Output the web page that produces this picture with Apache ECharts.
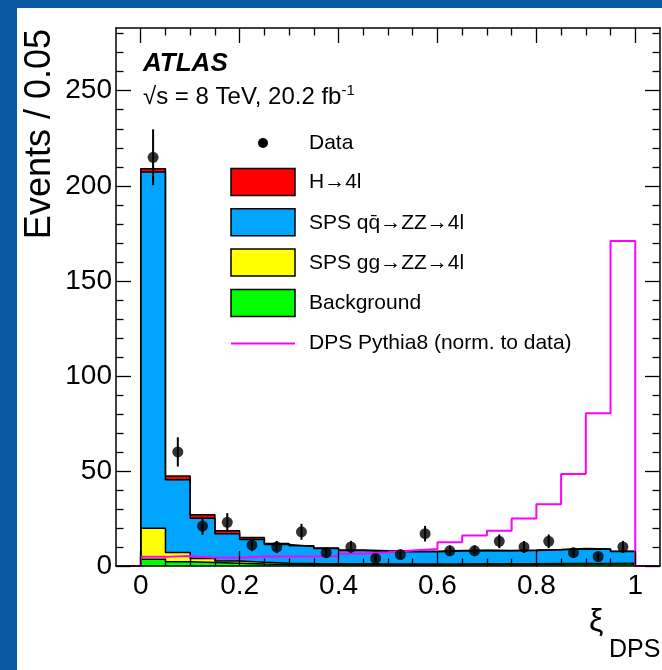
<!DOCTYPE html>
<html>
<head>
<meta charset="utf-8">
<script src="https://cdn.jsdelivr.net/npm/echarts@6/dist/echarts.min.js"></script>
<style>
	html, body { margin: 0; padding: 0; background: #0b59a3; }
	#chart { width: 662px; height: 670px; }
</style>
</head>
<body>
<div id="chart"></div>
<script>
// Bin edges of the xi_DPS histogram (20 bins of 0.05)
let binEdges = [0, 0.05, 0.1, 0.15, 0.2, 0.25, 0.3, 0.35, 0.4, 0.45, 0.5,
	0.55, 0.6, 0.65, 0.7, 0.75, 0.8, 0.85, 0.9, 0.95, 1.0];

// Data points and their error bars
let dataCounts = [215, 60, 21, 23, 11, 10, 18, 7, 10, 4, 6, 17, 8, 8, 13, 10, 13, 7, 5, 10];
let dataErrors = [14.7, 7.7, 4.6, 4.8, 3.3, 3.2, 4.2, 2.6, 3.2, 2.0, 2.4, 4.1, 2.8, 2.8, 3.6, 3.2, 3.6, 2.6, 2.2, 3.2];

// Stacked prediction, one array per component (bottom to top)
let bkgValues = [3.5, 2.3, 1.8, 1.4, 1.0, 0.8, 0.7, 0.7, 0.7, 0.7, 0.7, 0.7, 0.7, 0.8, 0.8, 0.8, 0.9, 1.0, 1.0, 1.1];
let ggValues = [16.3, 4.8, 2.2, 1.2, 1.0, 0.7, 0.6, 0.5, 0.5, 0.4, 0.4, 0.4, 0.4, 0.4, 0.4, 0.4, 0.4, 0.3, 0.3, 0.3];
let qqValues = [187.4, 38.3, 21.1, 14.4, 12.0, 9.8, 9.0, 8.0, 6.9, 6.7, 6.4, 6.4, 6.8, 6.9, 6.8, 7.0, 7.2, 7.7, 7.5, 6.2];
let higgsValues = [1.8, 2.0, 1.8, 1.5, 1.0, 0.6, 0.4, 0.3, 0.3, 0.2, 0.2, 0.2, 0.2, 0.2, 0.2, 0.2, 0.2, 0.2, 0.2, 0.2];

// DPS Pythia8 prediction (normalised to data)
let dpsValues = [4.8, 5.3, 4.4, 4.4, 5.0, 5.0, 5.0, 5.2, 6.4, 7.2, 8.2, 9.0, 12.5, 16.0, 18.6, 25.0, 32.5, 48.4, 80.4, 171.0];

// Axis ticks
let xTickLabels = [0, 0.2, 0.4, 0.6, 0.8, 1];
let xMinorTicks = [0.05, 0.1, 0.15, 0.25, 0.3, 0.35, 0.45, 0.5, 0.55, 0.65, 0.7, 0.75, 0.85, 0.9, 0.95];
let yTickLabels = [0, 50, 100, 150, 200, 250];
let yMinorTicks = [10, 20, 30, 40, 60, 70, 80, 90, 110, 120, 130, 140, 160, 170, 180, 190,
	210, 220, 230, 240, 260, 270, 280];

let font = 'Liberation Sans, Arial, Helvetica, sans-serif';
let colors = {
	higgs: '#ff0000',
	qq: '#00a5ff',
	gg: '#ffff00',
	bkg: '#00ff00',
	dps: '#ff00ff'
};

// Turn bin contents into step points (ECharts step: 'end')
function stepPoints(vals, tails) {
	let pts = [];
	if (tails) {
		pts.push([-0.05, 0]);
	} else {
		pts.push([binEdges[0], 0]);
	}
	for (let i = 0; i < vals.length; i++) {
		pts.push([binEdges[i], vals[i]]);
	}
	pts.push([binEdges[vals.length], 0]);
	if (tails) {
		pts.push([1.05, 0]);
	}
	return pts;
}

// Cumulative sums for the stack
let cumBkg = bkgValues.slice();
let cumGg = cumBkg.map((v, i) => v + ggValues[i]);
let cumQq = cumGg.map((v, i) => v + qqValues[i]);
let cumTotal = cumQq.map((v, i) => v + higgsValues[i]);

let points = dataCounts.map((v, i) => [(binEdges[i] + binEdges[i + 1]) / 2, v, dataErrors[i]]);

function histSeries(name, vals, color) {
	return {
		name: name,
		type: 'line',
		step: 'end',
		symbol: 'none',
		data: stepPoints(vals, false),
		lineStyle: { color: '#000', width: 1.5 },
		areaStyle: { color: color, opacity: 1 },
		z: 2
	};
}

function makeXAxis(pos, values, len, line, labels) {
	return {
		type: 'value', min: -0.05, max: 1.05, position: pos, z: 10,
		axisLine: { show: line, onZero: false, lineStyle: { color: '#000', width: 1.5 } },
		axisTick: { show: true, inside: true, length: len, customValues: values, lineStyle: { color: '#000', width: 1.3 } },
		axisLabel: { show: labels, customValues: values, margin: 6, fontFamily: font, fontSize: 28, color: '#000' },
		splitLine: { show: false }
	};
}

function makeYAxis(pos, values, len, line, labels) {
	return {
		type: 'value', min: 0, max: 283, position: pos, z: 10,
		axisLine: { show: line, onZero: false, lineStyle: { color: '#000', width: 1.5 } },
		axisTick: { show: true, inside: true, length: len, customValues: values, lineStyle: { color: '#000', width: 1.3 } },
		axisLabel: { show: labels, customValues: values, margin: 4, fontFamily: font, fontSize: 28, color: '#000' },
		splitLine: { show: false }
	};
}

// Legend rows (drawn by hand like the ROOT legend)
let legendRows = [
	['H\u21924l', colors.higgs],
	['SPS qq\u0304\u2192ZZ\u21924l', colors.qq],
	['SPS gg\u2192ZZ\u21924l', colors.gg],
	['Background', colors.bkg]
];

let graphics = [
	{ type: 'rect', z: -1, shape: { x: 17, y: 8, width: 645, height: 662 }, style: { fill: '#fff' } },
	{ type: 'text', x: 143, y: 64, style: { text: 'ATLAS', font: 'italic bold 26px ' + font, fill: '#000', verticalAlign: 'middle' } },
	{
		type: 'text', x: 143, y: 97,
		style: {
			text: '\u221As = 8 TeV, 20.2 fb{sup|-1}',
			font: '24px ' + font, fill: '#000', verticalAlign: 'middle',
			rich: { sup: { fontSize: 15, fontFamily: font, verticalAlign: 'top', padding: [0, 0, 12, 0] } }
		}
	},
	{ type: 'text', x: 40, y: 29, rotation: Math.PI / 2, style: { text: 'Events / 0.05', font: '36px ' + font, fill: '#000', align: 'right', verticalAlign: 'middle' } },
	{ type: 'text', x: 589, y: 622, style: { text: '\u03BE', font: '32px ' + font, fill: '#000', verticalAlign: 'middle' } },
	{ type: 'text', x: 609, y: 650, style: { text: 'DPS', font: '25px ' + font, fill: '#000', verticalAlign: 'middle' } },
	{ type: 'circle', shape: { cx: 263, cy: 143, r: 5 }, style: { fill: '#000' } },
	{ type: 'text', x: 309, y: 143, style: { text: 'Data', font: '21px ' + font, fill: '#000', verticalAlign: 'middle' } }
];

for (let i = 0; i < legendRows.length; i++) {
	let top = 168.5 + i * 40.3;
	graphics.push({ type: 'rect', shape: { x: 231, y: top, width: 64, height: 27 }, style: { fill: legendRows[i][1], stroke: '#000', lineWidth: 1.5 } });
	graphics.push({ type: 'text', x: 309, y: top + 14, style: { text: legendRows[i][0], font: '21px ' + font, fill: '#000', verticalAlign: 'middle' } });
}
graphics.push({ type: 'line', shape: { x1: 231, y1: 343.5, x2: 295, y2: 343.5 }, style: { stroke: colors.dps, lineWidth: 2 } });
graphics.push({ type: 'text', x: 309, y: 343.5, style: { text: 'DPS Pythia8 (norm. to data)', font: '21px ' + font, fill: '#000', verticalAlign: 'middle' } });

let chart = echarts.init(document.getElementById('chart'));
chart.setOption({
	animation: false,
	backgroundColor: '#0b59a3',
	grid: { left: 116, top: 28, right: 2, bottom: 104, containLabel: false, outerBoundsMode: 'none' },
	xAxis: [
		makeXAxis('bottom', xTickLabels, 15, true, true),
		makeXAxis('bottom', xMinorTicks, 7.5, false, false),
		makeXAxis('top', xTickLabels, 15, true, false),
		makeXAxis('top', xMinorTicks, 7.5, false, false)
	],
	yAxis: [
		makeYAxis('left', yTickLabels, 15, true, true),
		makeYAxis('left', yMinorTicks, 7.5, false, false),
		makeYAxis('right', yTickLabels, 15, true, false),
		makeYAxis('right', yMinorTicks, 7.5, false, false)
	],
	series: [
		histSeries('H\u21924l', cumTotal, colors.higgs),
		histSeries('SPS qq\u2192ZZ\u21924l', cumQq, colors.qq),
		histSeries('SPS gg\u2192ZZ\u21924l', cumGg, colors.gg),
		histSeries('Background', cumBkg, colors.bkg),
		{
			name: 'DPS Pythia8 (norm. to data)',
			type: 'line',
			step: 'end',
			symbol: 'none',
			clip: false,
			data: stepPoints(dpsValues, true),
			lineStyle: { color: colors.dps, width: 2 },
			z: 3
		},
		{
			name: 'Data errors',
			type: 'custom',
			encode: { x: 0, y: 1 },
			data: points,
			z: 5,
			renderItem: function (params, api) {
				let x = api.value(0);
				let y = api.value(1);
				let e = api.value(2);
				let hi = api.coord([x, y + e]);
				let lo = api.coord([x, y - e]);
				return {
					type: 'line',
					shape: { x1: hi[0], y1: hi[1], x2: lo[0], y2: lo[1] },
					style: { stroke: '#000', lineWidth: 2 }
				};
			}
		},
		{
			name: 'Data',
			type: 'scatter',
			symbol: 'circle',
			symbolSize: 11,
			data: points.map(p => [p[0], p[1]]),
			itemStyle: { color: '#000' },
			z: 6
		}
	],
	graphic: { elements: graphics }
});
</script>
</body>
</html>
